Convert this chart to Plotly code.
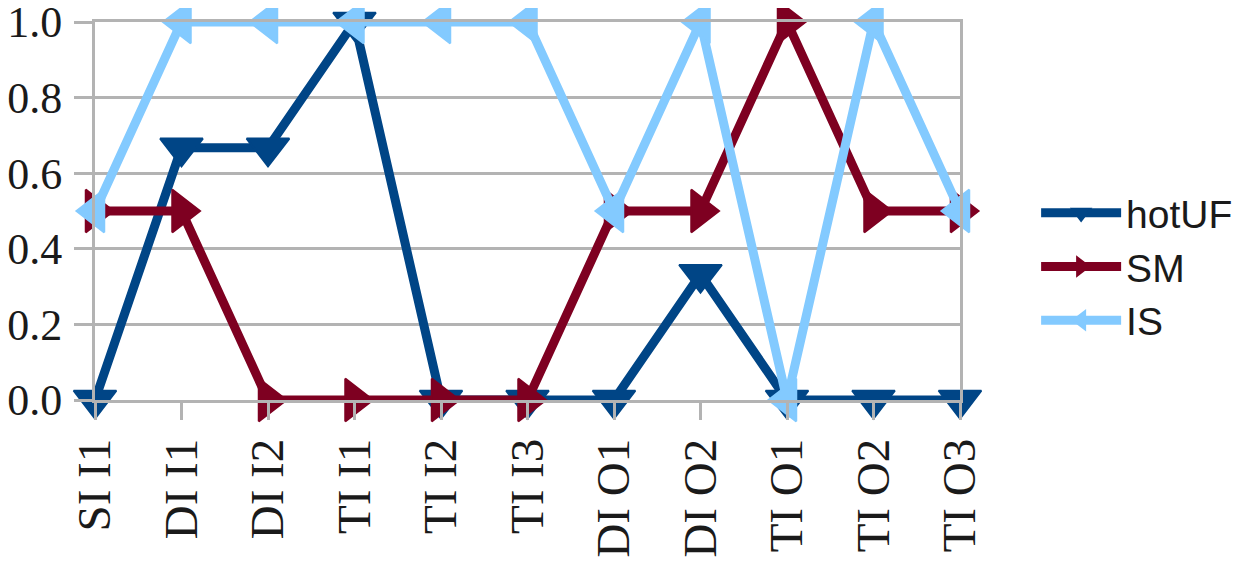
import plotly.graph_objects as go

# Categories on the x axis
CATEGORIES = ["SI I1", "DI I1", "DI I2", "TI I1", "TI I2", "TI I3",
              "DI O1", "DI O2", "TI O1", "TI O2", "TI O3"]

# Series values
HOTUF = [0.0, 0.667, 0.667, 1.0, 0.0, 0.0, 0.0, 0.333, 0.0, 0.0, 0.0]
SM = [0.5, 0.5, 0.0, 0.0, 0.0, 0.0, 0.5, 0.5, 1.0, 0.5, 0.5]
IS = [0.5, 1.0, 1.0, 1.0, 1.0, 1.0, 0.5, 1.0, 0.0, 1.0, 0.5]

Y_TICKS = [0.0, 0.2, 0.4, 0.6, 0.8, 1.0]

# LibreOffice default palette
DARK_BLUE = "#004586"
MAROON = "#7e0021"
SKY_BLUE = "#83caff"
GRID_GRAY = "#b3b3b3"

SERIES = [
    ("hotUF", HOTUF, DARK_BLUE, "triangle-down"),
    ("SM", SM, MAROON, "triangle-right"),
    ("IS", IS, SKY_BLUE, "triangle-left"),
]

fig = go.Figure()

for name, values, color, symbol in SERIES:
    fig.add_trace(
        go.Scatter(
            x=CATEGORIES,
            y=values,
            name=name,
            mode="lines+markers",
            line=dict(color=color, width=9),
            marker=dict(symbol=symbol, size=37, color=color,
                        line=dict(color=color, width=2)),
            cliponaxis=False,
        )
    )

# the page body adds an 8px offset, so margins are trimmed to match
fig.update_layout(
    width=1242,
    height=563,
    margin=dict(l=87, r=290, t=14, b=171, autoexpand=False),
    paper_bgcolor="white",
    plot_bgcolor="white",
    showlegend=True,
    legend=dict(
        x=1.088,
        y=0.352,
        xanchor="left",
        yanchor="middle",
        font=dict(family="Liberation Sans", size=39, color="#1a1a1a"),
        itemwidth=80,
        tracegroupgap=0,
    ),
)

fig.update_xaxes(
    type="category",
    range=[0, len(CATEGORIES) - 1],
    automargin=False,
    showgrid=False,
    showline=True,
    linecolor=GRID_GRAY,
    linewidth=3,
    mirror=True,
    ticks="outside",
    ticklen=17,
    tickwidth=3,
    tickcolor=GRID_GRAY,
    tickangle=-90,
    tickfont=dict(family="Liberation Serif", size=47, color="#1a1a1a"),
    zeroline=False,
)

fig.update_yaxes(
    range=[0, 1],
    automargin=False,
    tickvals=Y_TICKS,
    ticktext=[f"{v:.1f}" for v in Y_TICKS],
    ticklabeloverflow="allow",
    ticklabelstandoff=3,
    showgrid=True,
    gridcolor=GRID_GRAY,
    gridwidth=3,
    showline=True,
    linecolor=GRID_GRAY,
    linewidth=3,
    mirror=True,
    ticks="outside",
    ticklen=18,
    tickwidth=3,
    tickcolor=GRID_GRAY,
    tickfont=dict(family="Liberation Serif", size=44, color="#1a1a1a"),
    zeroline=False,
)

fig.write_html("out.html")
